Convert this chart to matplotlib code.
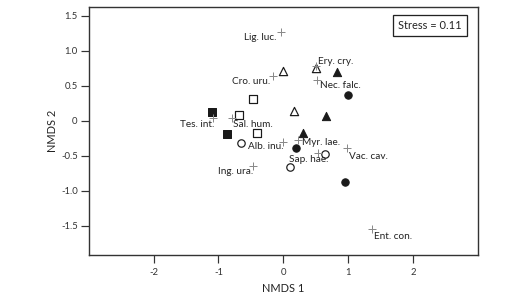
import matplotlib
matplotlib.use("Agg")
import matplotlib.pyplot as plt

# Site scores grouped by symbol
filled_sq_x = [-1.10, -0.87]
filled_sq_y = [0.12, -0.19]
open_sq_x = [-0.47, -0.68, -0.40]
open_sq_y = [0.31, 0.09, -0.17]
open_circ_x = [-0.66, 0.10, 0.64]
open_circ_y = [-0.31, -0.66, -0.47]
filled_circ_x = [1.00, 0.20, 0.955]
filled_circ_y = [0.37, -0.39, -0.88]
open_tri_x = [0.00, 0.51, 0.16]
open_tri_y = [0.71, 0.76, 0.14]
filled_tri_x = [0.82, 0.65, 0.30]
filled_tri_y = [0.70, 0.07, -0.17]

# Species scores
species = ["Lig. luc.", "Cro. uru.", "Ery. cry.", "Nec. falc.", "Tes. int.", "Sal. hum.",
           "Alb. inu.", "Myr. lae.", "Sap. hae.", "Vac. cav.", "Ing. ura.", "Ent. con."]
sp_x = [-0.03, -0.165, 0.51, 0.52, -1.09, -0.79, 0.00, 0.22, 0.54, 0.98, -0.47, 1.36]
sp_y = [1.27, 0.64, 0.78, 0.58, 0.04, 0.04, -0.30, -0.28, -0.46, -0.39, -0.65, -1.54]

x_ticks = [-2, -1, 0, 1, 2]
y_ticks = [-1.5, -1.0, -0.5, 0, 0.5, 1.0, 1.5]
y_ticklabels = ["-1.5", "-1.0", "-0.5", "0", "0.5", "1.0", "1.5"]
stress_text = "Stress = 0.11"

# label placement (offset in points, horizontal alignment)
label_style = [((-5, -6), "right"), ((-2, -5), "right"), ((2, 5), "left"), ((3, -5), "left"),
               ((2, -6), "right"), ((1, -6), "left"), ((0, -5), "right"), ((4, -2), "left"),
               ((-10, -6), "center"), ((2, -8), "left"), ((0, -5), "right"), ((2, -8), "left")]

plt.rcParams['font.family'] = ['Lato', 'DejaVu Sans']

fig = plt.figure(figsize=(528/72, 304/72), dpi=72)
ax = fig.add_axes([88.7/528, 1 - 255.3/304, (478 - 88.7)/528, (255.3 - 6.7)/304])

fc = "#1a1a1a"
ms = 55
ax.scatter(filled_sq_x, filled_sq_y, marker="s", s=ms, c=fc, edgecolors=fc, zorder=3)
ax.scatter(open_sq_x, open_sq_y, marker="s", s=ms, facecolors="white", edgecolors=fc, linewidths=1.2, zorder=3)
ax.scatter(open_circ_x, open_circ_y, marker="o", s=ms, facecolors="white", edgecolors=fc, linewidths=1.2, zorder=3)
ax.scatter(filled_circ_x, filled_circ_y, marker="o", s=ms, c=fc, edgecolors=fc, zorder=3)
ax.scatter(open_tri_x, open_tri_y, marker="^", s=68, facecolors="white", edgecolors=fc, linewidths=1.2, zorder=3)
ax.scatter(filled_tri_x, filled_tri_y, marker="^", s=68, c=fc, edgecolors=fc, zorder=3)

ax.scatter(sp_x, sp_y, marker="+", s=75, c="#8a8a8a", linewidths=1.0, zorder=4)
for name, x, y, (off, ha) in zip(species, sp_x, sp_y, label_style):
    ax.annotate(name, (x, y), xytext=off, textcoords="offset points", ha=ha, va="center",
                fontsize=10, color="#222222", zorder=5)

ax.text(0.877, 0.926, stress_text, transform=ax.transAxes, ha="center", va="center", fontsize=11,
        color="#222222", bbox=dict(boxstyle="square,pad=0.45", fc="white", ec="#222222", lw=1.3))

ax.set_xlim(-3, 3)
ax.set_ylim(-1.92, 1.63)
ax.set_xticks(x_ticks)
ax.set_xticklabels([str(t) for t in x_ticks])
ax.set_yticks(y_ticks)
ax.set_yticklabels(y_ticklabels)
ax.tick_params(direction="out", length=8, width=1.2, color="#333333", labelsize=9.5,
               labelcolor="#333333")
ax.tick_params(axis="x", pad=5)
ax.tick_params(axis="y", pad=3)
for sp in ax.spines.values():
    sp.set_color("#333333")
    sp.set_linewidth(1.4)
ax.set_xlabel("NMDS 1", fontsize=11, color="#222222", labelpad=6)
ax.set_ylabel("NMDS 2", fontsize=11, color="#222222", labelpad=3)

fig.savefig("out.png", dpi=72)
